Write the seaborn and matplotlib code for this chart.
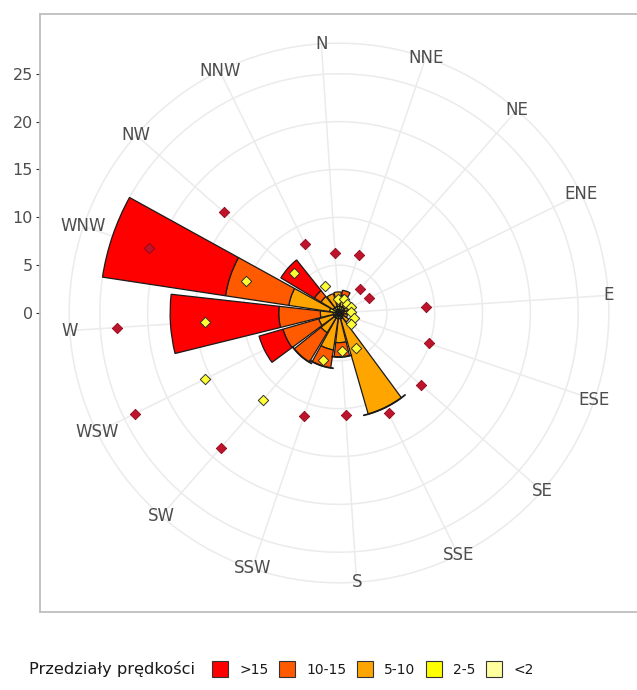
import numpy as np
import matplotlib
matplotlib.use("Agg")
import matplotlib.pyplot as plt
from matplotlib.patches import Patch
import seaborn as sns

# --- data -----------------------------------------------------------------
directions = ["N", "NNE", "NE", "ENE", "E", "ESE", "SE", "SSE",
              "S", "SSW", "SW", "WSW", "W", "WNW", "NW", "NNW"]

speed_bins = ["<2", "2-5", "5-10", "10-15", ">15"]
bin_colors = ["#FFFFA0", "#FFFF00", "#FFA500", "#FF5A00", "#FF0000"]

# frequency (%) per direction for each speed class (stacked from the centre)
freq_lt2 = [0.3, 0.3, 0.3, 0.3, 0.2, 0.2, 0.2, 0.2, 0.2, 0.2, 0.2, 0.2, 0.2, 0.3, 0.2, 0.3]
freq_2_5 = [0.4, 0.4, 0.4, 0.3, 0.3, 0.3, 0.3, 0.4, 0.4, 0.4, 0.4, 0.4, 0.4, 0.7, 0.5, 0.4]
freq_5_10 = [1.5, 1.2, 0.6, 0.4, 0.3, 0.4, 0.7, 10.4, 2.5, 3.3, 1.8, 1.6, 1.35, 4.3, 1.5, 1.4]
freq_10_15 = [0.0, 0.5, 0.2, 0.2, 0.0, 0.0, 0.0, 0.0, 1.5, 1.9, 3.6, 3.9, 4.35, 6.7, 0.8, 0.0]
freq_gt15 = [0.0, 0.0, 0.0, 0.0, 0.0, 0.0, 0.0, 0.0, 0.0, 0.0, 0.0, 2.6, 11.35, 13.0, 4.1, 0.0]

# per-direction markers
marker_red = [6.3, 6.4, 3.3, 3.5, 9.1, 9.9, 11.4, 11.7, 10.7, 11.4, 18.7, 23.8, 23.3, 21.0, 16.0, 8.0]
marker_yellow = [1.5, 1.6, 1.2, 1.4, 1.3, 1.7, 1.7, 4.1, 4.0, 5.2, 12.05, 15.6, 14.0, 10.3, 6.3, 3.2]

# directions whose bar tops carry an error-bar cap
cap_directions = ["SSE", "S", "SSW", "SW"]

radial_ticks = [0, 5, 10, 15, 20, 25]
legend_title = "Przedziały prędkości"
legend_labels = [">15", "10-15", "5-10", "2-5", "<2"]

# --- figure ---------------------------------------------------------------
sns.set_theme(style="white")
plt.rcParams["font.family"] = ["DejaVu Sans"]

W, H = 637, 690
fig = plt.figure(figsize=(W / 100, H / 100), dpi=100)
fig.patch.set_facecolor("white")

R_MAX = 25 / 0.8          # panel half-width in data units
R_OUT = 28.2              # outer ring carrying the direction labels
rect = [40 / W, (H - 612) / H, 598 / W, 598 / H]

text_col = "#4D4D4D"
grid_col = "#EBEBEB"

# cartesian frame: panel border and the radial scale on the left
frame = fig.add_axes(rect)
frame.set_xlim(-1, 1)
frame.set_ylim(-R_MAX, R_MAX)
frame.set_xticks([])
frame.set_yticks(radial_ticks)
frame.set_yticklabels([str(t) for t in radial_ticks])
frame.tick_params(axis="y", length=3, width=0.8, color="#333333",
                  labelsize=11.5, labelcolor=text_col, pad=2, left=True)
for sp in frame.spines.values():
    sp.set_color("#BEBEBE")
    sp.set_linewidth(1.3)
frame.set_facecolor("white")

# polar panel
ax = fig.add_axes(rect, projection="polar")
ax.patch.set_alpha(0)
ax.set_theta_zero_location("N", offset=3.75)
ax.set_theta_direction(-1)
ax.set_rlim(0, R_MAX)
ax.grid(False)
ax.spines["polar"].set_visible(False)

theta = np.deg2rad(np.arange(len(directions)) * 22.5)
full = np.linspace(0, 2 * np.pi, 400)

for r in radial_ticks[1:] + [R_OUT]:
    ax.plot(full, np.full_like(full, r), color=grid_col, lw=1.1, zorder=0)
for t in theta:
    ax.plot([t, t], [0, R_OUT], color=grid_col, lw=1.1, zorder=0)

for t, name in zip(theta, directions):
    ax.text(t, R_OUT, name, ha="center", va="center", fontsize=12,
            color=text_col, zorder=1)

# stacked wind-rose bars
stack = np.array([freq_lt2, freq_2_5, freq_5_10, freq_10_15, freq_gt15])
bar_w = np.deg2rad(22.5 * 0.9)
bottom = np.zeros(len(directions))
for vals, col in zip(stack, bin_colors):
    m = vals > 0
    ax.bar(theta[m], vals[m], width=bar_w, bottom=bottom[m], color=col,
           edgecolor="#1A1A1A", linewidth=0.9, zorder=2)
    bottom = bottom + vals
totals = bottom

# error-bar caps on the bar tops
cap_half = np.deg2rad(12.6)
for d in cap_directions:
    i = directions.index(d)
    tt = np.linspace(theta[i] - cap_half, theta[i] + cap_half, 30)
    ax.plot(tt, np.full_like(tt, totals[i]), color="#1A1A1A", lw=1.3, zorder=3)

# markers
sns.scatterplot(x=theta, y=marker_red, ax=ax, marker="D", s=28,
                color="#C0142C", edgecolor="#8B0A1A", linewidth=0.6, zorder=4,
                legend=False)
sns.scatterplot(x=theta, y=marker_yellow, ax=ax, marker="D", s=28,
                color="#FFFF33", edgecolor="#333333", linewidth=0.7, zorder=4,
                legend=False)
ax.set_rlim(0, R_MAX)
ax.set_xlabel("")
ax.set_ylabel("")
ax.set_xticks([])
ax.set_yticks([])

# legend along the bottom
fig.text(29 / W, 1 - 669 / H, legend_title, ha="left", va="center",
         fontsize=11.7, color="#1A1A1A")
handles = [Patch(facecolor=bin_colors[speed_bins.index(lab)],
                 edgecolor="#333333", linewidth=0.8, label=lab)
           for lab in legend_labels]
leg = fig.legend(handles=handles, loc="center left",
                 bbox_to_anchor=(212 / W, 1 - 669 / H), ncol=5, frameon=False,
                 fontsize=10, handlelength=1.17, handleheight=1.3,
                 handletextpad=0.8, columnspacing=0.75, borderpad=0,
                 borderaxespad=0)
for txt in leg.get_texts():
    txt.set_color("#1A1A1A")

fig.savefig("out.png", dpi=100)
